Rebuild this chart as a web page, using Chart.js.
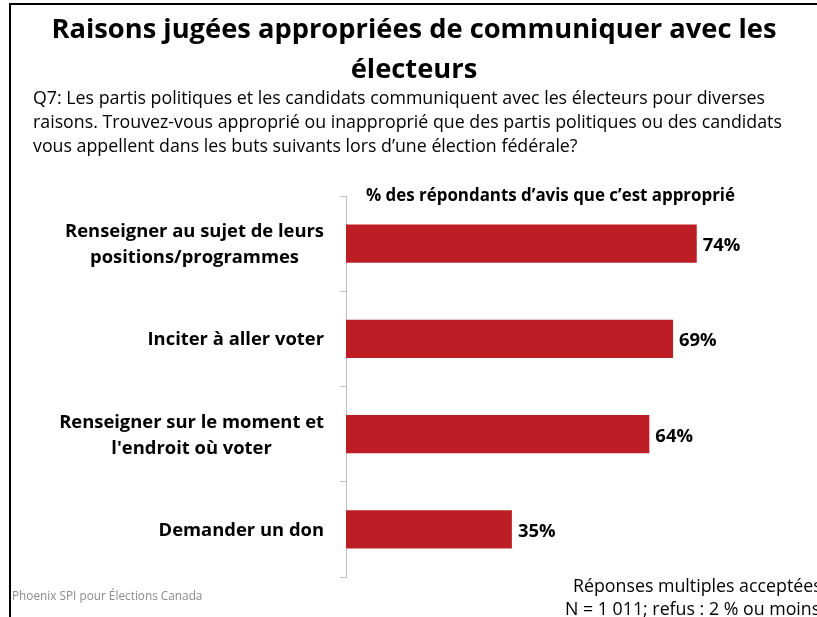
<!DOCTYPE html>
<html lang="fr">
<head>
<meta charset="utf-8">
<title>Raisons jugées appropriées de communiquer avec les électeurs</title>
<script src="https://cdn.jsdelivr.net/npm/chart.js@4.4.0/dist/chart.umd.min.js"></script>
<style>
  html, body { margin: 0; padding: 0; overflow: hidden; background: #fff; }
  #diapo { position: relative; width: 900px; height: 617px; font-family: "Open Sans", sans-serif; color: #000; }
  #cadre { position: absolute; left: 9px; top: 3px; right: 0; bottom: 0; border-left: 2px solid #000; border-top: 2px solid #000; }
  #titre { position: absolute; left: 0; width: 828px; top: 8px; text-align: center; font-weight: bold; font-size: 27.3px; line-height: 40px; }
  #question { position: absolute; left: 33px; top: 85px; font-size: 17.8px; line-height: 24px; white-space: nowrap; }
  #entete { position: absolute; left: 366px; top: 183px; font-weight: bold; font-size: 16.9px; white-space: nowrap; }
  .note { position: absolute; font-size: 17.8px; white-space: nowrap; }
  #source { position: absolute; left: 12px; top: 587px; font-size: 11.8px; color: #8c8c8c; white-space: nowrap; }
  canvas { position: absolute; left: 0; top: 0; }
</style>
</head>
<body>
<div id="diapo">
  <div id="cadre"></div>
  <canvas id="graphique" width="900" height="617"></canvas>
  <div id="titre">Raisons jugées appropriées de communiquer avec les<br>électeurs</div>
  <div id="question">Q7: Les partis politiques et les candidats communiquent avec les électeurs pour diverses<br>raisons. Trouvez-vous approprié ou inapproprié que des partis politiques ou des candidats<br>vous appellent dans les buts suivants lors d’une élection fédérale?</div>
  <div id="entete">% des répondants d’avis que c’est approprié</div>
  <div class="note" style="left:573px; top:573px;">Réponses multiples acceptées</div>
  <div class="note" style="left:565px; top:596px;">N = 1 011; refus : 2 % ou moins</div>
  <div id="source">Phoenix SPI pour Élections Canada</div>
</div>
<script>
// raisons (une ligne par entrée du tableau) et % jugé approprié
var categories = [
  ['Renseigner au sujet de leurs', 'positions/programmes'],
  ['Inciter à aller voter'],
  ['Renseigner sur le moment et', "l'endroit où voter"],
  ['Demander un don']
];
var valeurs = [74, 69, 64, 35];

var rouge = '#bd1e25';
var gris = '#bfbfbf';

// libellés centrés ligne par ligne à gauche de l'axe + valeurs au bout des barres
var libelles = {
  id: 'libelles',
  afterDraw: function (chart) {
    var ctx = chart.ctx;
    var axe = chart.scales.y;
    var droite = chart.chartArea.left - 22;
    ctx.save();
    ctx.font = 'bold 18.4px "Open Sans"';
    ctx.fillStyle = '#000';
    ctx.textAlign = 'center';
    categories.forEach(function (lignes, i) {
      var cy = axe.getPixelForTick(i);
      var larg = Math.max.apply(null, lignes.map(function (l) { return ctx.measureText(l).width; }));
      var cx = droite - larg / 2;
      lignes.forEach(function (l, j) {
        ctx.fillText(l, cx, cy + 6.5 + (j - (lignes.length - 1) / 2) * 26);
      });
    });
    ctx.textAlign = 'left';
    chart.getDatasetMeta(0).data.forEach(function (barre, i) {
      ctx.fillText(valeurs[i] + '%', barre.x + 6, barre.y + 7.5);
    });
    ctx.restore();
  }
};

var ctx = document.getElementById('graphique').getContext('2d');
new Chart(ctx, {
  type: 'bar',
  data: {
    labels: categories,
    datasets: [{
      data: valeurs,
      backgroundColor: rouge,
      barPercentage: 0.8,
      categoryPercentage: 0.5
    }]
  },
  options: {
    indexAxis: 'y',
    responsive: false,
    animation: false,
    layout: { padding: { top: 196, bottom: 40, right: 80, left: 0 } },
    plugins: {
      legend: { display: false },
      tooltip: { enabled: false }
    },
    scales: {
      x: { display: false, min: 0, max: 100 },
      y: {
        ticks: { display: false },
        grid: { drawOnChartArea: false, color: gris, tickLength: 6 },
        border: { color: gris },
        afterFit: function (scale) { scale.width = 346; }
      }
    }
  },
  plugins: [libelles]
});
</script>
</body>
</html>
